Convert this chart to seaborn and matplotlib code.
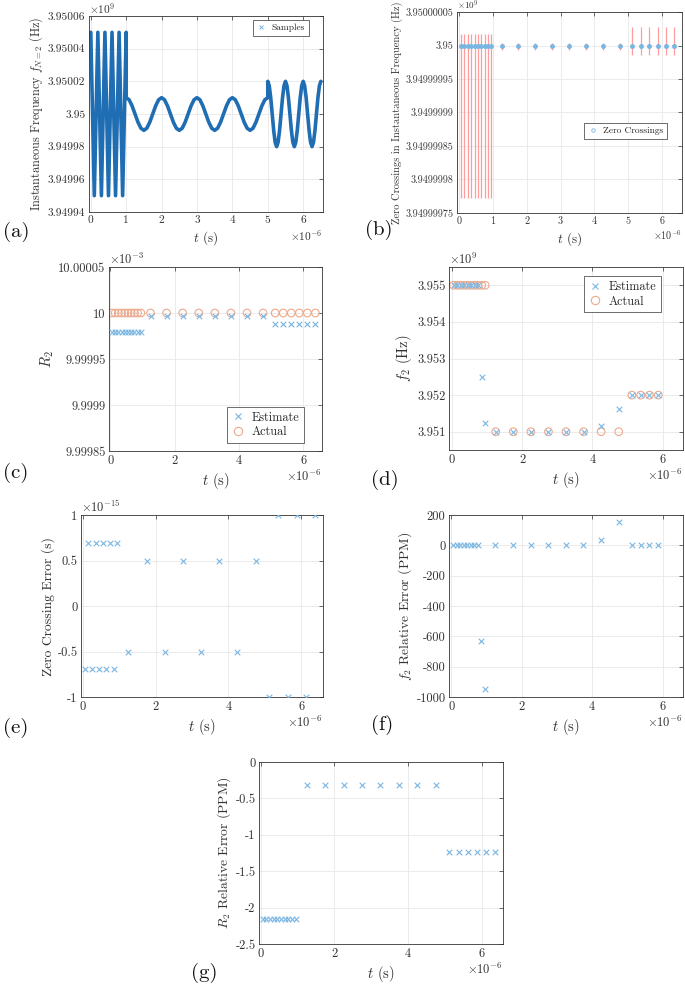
import numpy as np
import pandas as pd
import matplotlib
matplotlib.use("Agg")
import matplotlib.pyplot as plt
import seaborn as sns
from matplotlib.lines import Line2D

# ---------------- data ----------------
# (a) instantaneous frequency samples: t in us, deviation from 3.95 GHz in kHz
seg1_t = np.linspace(0.0, 1.0, 11)
seg1_dev = [50, -50] * 5 + [50]
seg2_t = np.linspace(1.0, 5.0, 49)
seg2_cycle = [10, 8.7, 5, 0, -5, -8.7, -10, -8.7, -5, 0, 5, 8.7]
seg2_dev = seg2_cycle * 4 + [10]
seg3_t = np.linspace(5.0, 6.5, 37)
seg3_cycle = [20, 17.3, 10, 0, -10, -17.3, -20, -17.3, -10, 0, 10, 17.3]
seg3_dev = seg3_cycle * 3 + [20]

# (b) zero crossings (us) and the red spans around them (Hz from 3.95 GHz)
zc_t = [0.05, 0.15, 0.25, 0.35, 0.45, 0.55, 0.65, 0.75, 0.85, 0.95,
        1.25, 1.75, 2.25, 2.75, 3.25, 3.75, 4.25, 4.75,
        5.125, 5.375, 5.625, 5.875, 6.125, 6.375]
zc_lo = [-228] * 10 + [-6.5] * 8 + [-14] * 6
zc_hi = [17] * 10 + [3.5] * 8 + [27] * 6

# (c) R2 (x1e-3)
r2_est = [9.999979] * 10 + [9.9999969] * 8 + [9.9999876] * 6
r2_act = [10.0] * 24

# (d) f2 (x1e9 Hz), only the first 22 crossings
f2_t = zc_t[:22]
f2_est = [3.955] * 8 + [3.9525, 3.95125] + [3.951] * 6 + [3.95115, 3.95161] + [3.952] * 4
f2_act = [3.955] * 10 + [3.951] * 8 + [3.952] * 4

# (e) zero crossing error (x1e-15 s)
zc_err = [-0.69, 0.69] * 5 + [-0.5, 0.5] * 4 + [-1, 1] * 3

# (f) f2 relative error (PPM)
f2_err = [0] * 8 + [-630, -950] + [0] * 6 + [37, 155] + [0] * 4

# (g) R2 relative error (PPM)
r2_err = [-2.15] * 10 + [-0.31] * 8 + [-1.24] * 6

# tick labels
a_yticks = [-60, -40, -20, 0, 20, 40, 60]
a_ylabels = ["3.94994", "3.94996", "3.94998", "3.95", "3.95002", "3.95004", "3.95006"]
b_yticks = [-250, -200, -150, -100, -50, 0, 50]
b_ylabels = ["3.94999975", "3.9499998", "3.94999985", "3.9499999",
             "3.94999995", "3.95", "3.95000005"]
c_yticks = [9.99985, 9.9999, 9.99995, 10.0, 10.00005]
c_ylabels = ["9.99985", "9.9999", "9.99995", "10", "10.00005"]
d_yticks = [3.951, 3.952, 3.953, 3.954, 3.955]
d_ylabels = ["3.951", "3.952", "3.953", "3.954", "3.955"]
e_yticks = [-1, -0.5, 0, 0.5, 1]
e_ylabels = ["-1", "-0.5", "0", "0.5", "1"]
f_yticks = [-1000, -800, -600, -400, -200, 0, 200]
f_ylabels = ["-1000", "-800", "-600", "-400", "-200", "0", "200"]
g_yticks = [-2.5, -2, -1.5, -1, -0.5, 0]
g_ylabels = ["-2.5", "-2", "-1.5", "-1", "-0.5", "0"]

# ---------------- style ----------------
sns.set_style("white")
plt.rcParams["font.family"] = ["cmr10", "DejaVu Serif"]
plt.rcParams["mathtext.fontset"] = "cm"
plt.rcParams["axes.unicode_minus"] = False

DARK = "#1f6db3"
LBLUE = "#7ab6e2"
ORANGE = "#eca98c"
RED = "#ff9c9c"
AXC = "#333333"

W, H = 685, 990
fig = plt.figure(figsize=(W / 100, H / 100), dpi=100)


def add_ax(l, t, r, b):
    return fig.add_axes([l / W, 1 - b / H, (r - l) / W, (b - t) / H])


def style(ax, yticks, ylabels, ylabel, exp, tick_fs, lab_fs, xoff_pt,
          xlab_fs=None, exp_fs=None, wide=False):
    ax.set_yticks(yticks)
    ax.set_yticklabels(ylabels)
    ax.set_xticks([0, 2, 4, 6] if wide else [0, 1, 2, 3, 4, 5, 6])
    ax.set_xticklabels([str(v) for v in ax.get_xticks().astype(int)])
    ax.tick_params(direction="in", top=True, right=True, length=3, width=0.5,
                   labelsize=tick_fs, colors=AXC, pad=2.5)
    for s in ax.spines.values():
        s.set_color(AXC)
        s.set_linewidth(0.6)
    ax.grid(True, color="#e8e8e8", lw=0.6)
    ax.set_axisbelow(True)
    ax.set_xlabel(r"$t$ (s)", fontsize=xlab_fs or lab_fs, color=AXC, labelpad=3)
    ax.set_ylabel(ylabel, fontsize=lab_fs, color=AXC, labelpad=2)
    if exp:
        ax.text(0, 1.0, exp, transform=ax.transAxes, ha="left", va="bottom",
                fontsize=exp_fs or tick_fs, color=AXC)
    ax.annotate(r"$\times10^{-6}$", xy=(1, 0), xycoords="axes fraction",
                xytext=(0, -xoff_pt), textcoords="offset points",
                ha="right", va="top", fontsize=tick_fs, color=AXC)


def mlegend(ax, handles, labels, fs, **kw):
    leg = ax.legend(handles, labels, fontsize=fs, frameon=True, fancybox=False,
                    edgecolor=AXC, framealpha=1, borderaxespad=0,
                    handlelength=1.0, handletextpad=0.6, borderpad=0.4,
                    labelspacing=0.2, **kw)
    leg.get_frame().set_linewidth(0.5)


# (a)
ax = add_ax(89, 16, 323, 212)
df_a = pd.DataFrame({
    "t": np.concatenate([seg1_t, seg2_t, seg3_t]),
    "dev": seg1_dev + seg2_dev + seg3_dev,
})
sns.lineplot(data=df_a, x="t", y="dev", sort=False, estimator=None,
             color=DARK, lw=2.6, ax=ax, legend=False)
ax.set_xlim(-0.05, 6.56)
ax.set_ylim(-60, 60)
style(ax, a_yticks, a_ylabels, r"Instantaneous Frequency $f_{N=2}$ (Hz)",
      r"$\times10^{9}$", 8.2, 8.8, 11.5, xlab_fs=9.5)
mlegend(ax, [Line2D([], [], ls="", marker="x", ms=3, mew=0.7, color=LBLUE)],
        ["Samples"], 6.8, loc="upper right", bbox_to_anchor=(0.94, 0.98))

# (b)
ax = add_ax(457, 12, 682, 213)
ax.vlines(zc_t, zc_lo, zc_hi, color=RED, lw=0.9, zorder=2)
sns.scatterplot(x=zc_t, y=[0] * len(zc_t), marker="o", s=9, color=LBLUE,
                edgecolor=LBLUE, linewidth=0.5, ax=ax, zorder=3)
ax.set_xlim(-0.07, 6.6)
ax.set_ylim(-250, 50)
style(ax, b_yticks, b_ylabels, "Zero Crossings in Instantaneous Frequency (Hz)",
      r"$\times10^{9}$", 7.3, 7.6, 11.5, xlab_fs=9.5, exp_fs=6.5)
mlegend(ax, [Line2D([], [], ls="", marker="o", ms=2.5, mfc="none", mew=0.6, color=LBLUE)],
        ["Zero Crossings"], 6.8, loc="center", bbox_to_anchor=(0.75, 0.41))

# helper for the estimate / actual panels
def est_act(ax, t, est, act):
    sns.scatterplot(x=t, y=est, marker="x", s=16, color=LBLUE, linewidth=0.8,
                    ax=ax, zorder=3)
    if act is not None:
        sns.scatterplot(x=t, y=act, marker="o", s=30, facecolor="none",
                        edgecolor=ORANGE, linewidth=0.8, ax=ax, zorder=2)


h_est = Line2D([], [], ls="", marker="x", ms=5, mew=0.8, color=LBLUE)
h_act = Line2D([], [], ls="", marker="o", ms=6, mfc="none", mew=0.8, color=ORANGE)

# (c)
ax = add_ax(109, 267, 322, 451)
est_act(ax, zc_t, r2_est, r2_act)
ax.set_xlim(-0.04, 6.58)
ax.set_ylim(9.99985, 10.00005)
style(ax, c_yticks, c_ylabels, r"$R_2$", r"$\times10^{-3}$", 9, 10.5, 13, wide=True)
mlegend(ax, [h_est, h_act], ["Estimate", "Actual"], 8.8,
        loc="lower right", bbox_to_anchor=(0.915, 0.043))

# (d)
ax = add_ax(449, 267, 683, 450)
est_act(ax, f2_t, f2_est, f2_act)
ax.set_xlim(-0.08, 6.58)
ax.set_ylim(3.9505, 3.9555)
style(ax, d_yticks, d_ylabels, r"$f_2$ (Hz)", r"$\times10^{9}$", 9, 10.5, 13, wide=True)
mlegend(ax, [h_est, h_act], ["Estimate", "Actual"], 8.8,
        loc="upper right", bbox_to_anchor=(0.906, 0.951))

# (e)
ax = add_ax(81, 515, 323, 697)
est_act(ax, zc_t, zc_err, None)
ax.set_xlim(-0.05, 6.6)
ax.set_ylim(-1, 1)
style(ax, e_yticks, e_ylabels, "Zero Crossing Error (s)", r"$\times10^{-15}$", 9, 9.8, 13,
      xlab_fs=10.5, wide=True)

# (f)
ax = add_ax(449, 515, 683, 697)
est_act(ax, f2_t, f2_err, None)
ax.set_xlim(-0.07, 6.58)
ax.set_ylim(-1000, 200)
style(ax, f_yticks, f_ylabels, r"$f_2$ Relative Error (PPM)", None, 9, 9.8, 13,
      xlab_fs=10.5, wide=True)

# (g)
ax = add_ax(259, 762, 503, 944)
est_act(ax, zc_t, r2_err, None)
ax.set_xlim(-0.05, 6.58)
ax.set_ylim(-2.5, 0)
style(ax, g_yticks, g_ylabels, r"$R_2$ Relative Error (PPM)", None, 9, 9.8, 13,
      xlab_fs=10.5, wide=True)

# panel letters
for lab, x, y in [("(a)", 3, 232), ("(b)", 365, 230), ("(c)", 3, 473),
                  ("(d)", 371, 480), ("(e)", 3, 728), ("(f)", 371, 725),
                  ("(g)", 191, 973)]:
    fig.text(x / W, 1 - y / H, lab, fontsize=15, ha="left", va="center", color="#111111")

fig.savefig("out.png", dpi=100)
